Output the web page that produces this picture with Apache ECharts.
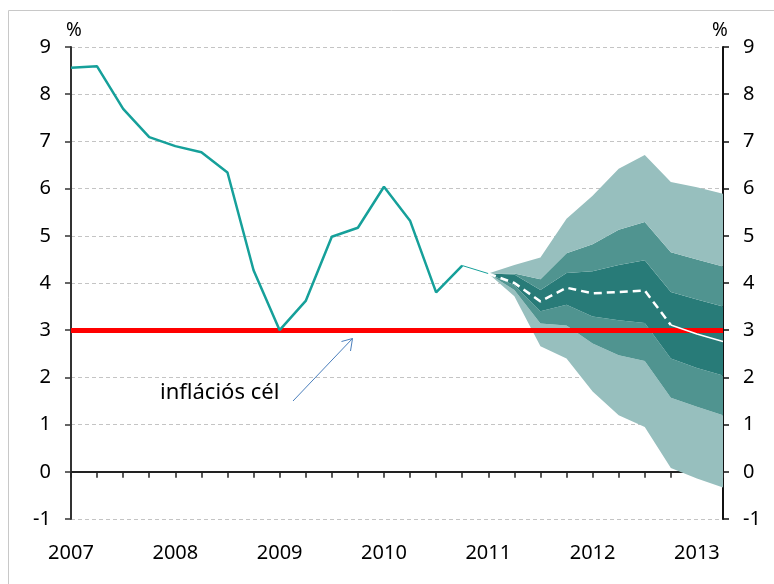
<!DOCTYPE html>
<html>
<head>
    <meta charset="utf-8">
    <title>Infláció</title>
    <script src="https://cdn.jsdelivr.net/npm/echarts@6/dist/echarts.min.js"></script>
</head>
<body style="margin:0;background:#fff">
<div id="main" style="width: 774px;height:584px;"></div>
<script type="text/javascript">
    // negyedéves tengely, évszám csak az első negyedévnél
    const xLabels = ['2007', '', '', '', '2008', '', '', '', '2009', '', '', '', '2010', '', '', '',
        '2011', '', '', '', '2012', '', '', '', '2013', ''];

    // tény adatok 2007 Q1 - 2010 Q4
    const history = [8.56, 8.59, 7.69, 7.09, 6.90, 6.77, 6.34, 4.27, 3.0, 3.62, 4.98, 5.17, 6.04, 5.32, 3.80, 4.37];

    // előrejelzés 2011 Q1 - 2013 Q2
    const median = [4.2, 4.0, 3.61, 3.90, 3.78, 3.81, 3.84, 3.11, 2.92, 2.76];
    const outerLow = [4.2, 3.72, 2.66, 2.40, 1.70, 1.20, 0.95, 0.08, -0.14, -0.33];
    const midLow = [4.2, 3.85, 3.14, 3.10, 2.72, 2.47, 2.35, 1.57, 1.38, 1.20];
    const darkLow = [4.2, 3.95, 3.40, 3.54, 3.29, 3.21, 3.15, 2.40, 2.20, 2.04];
    const darkHigh = [4.2, 4.18, 3.85, 4.21, 4.25, 4.38, 4.48, 3.81, 3.65, 3.50];
    const midHigh = [4.2, 4.2, 4.08, 4.63, 4.82, 5.13, 5.29, 4.65, 4.50, 4.35];
    const outerHigh = [4.2, 4.38, 4.54, 5.36, 5.85, 6.42, 6.71, 6.14, 6.03, 5.89];

    const target = 3;
    const start = history.length; // 16

    const light = '#97bfbe', mid = '#509490', dark = '#287b78', teal = '#16a09a';
    const font = 'Noto Sans';

    function pad(arr, offset) {
        const out = [];
        for (let i = 0; i < offset; i++) out.push(null);
        return out.concat(arr);
    }

    function diff(a, b) {
        return a.map((v, i) => +(v - b[i]).toFixed(3));
    }

    function band(name, values, color) {
        return {
            name: name, type: 'line', stack: 'fan', stackStrategy: 'all',
            data: pad(values, start), symbol: 'none', silent: true,
            lineStyle: {width: 0, opacity: 0},
            areaStyle: color ? {color: color, opacity: 1} : null,
            z: 2
        };
    }

    const myChart = echarts.init(document.getElementById('main'));

    const axisColor = '#333';
    const option = {
        animation: false,
        grid: {left: 71, right: 51, top: 47, bottom: 65},
        xAxis: [
            {
                type: 'category', data: xLabels, boundaryGap: false, position: 'bottom',
                axisLine: {show: false, onZero: false},
                axisTick: {show: false},
                axisLabel: {interval: 0, fontSize: 20, color: '#000', margin: 24, fontFamily: font},
                splitLine: {show: false}
            },
            {
                type: 'category', data: xLabels, boundaryGap: false, position: 'bottom',
                axisLine: {show: true, onZero: true, lineStyle: {color: '#222', width: 2}},
                axisTick: {show: true, interval: 0, length: 6, lineStyle: {color: '#222', width: 1.5}},
                axisLabel: {show: false},
                splitLine: {show: false}
            }
        ],
        yAxis: [
            {
                type: 'value', min: -1, max: 9, interval: 1, position: 'left',
                name: '%', nameLocation: 'end', nameGap: 7,
                nameTextStyle: {fontSize: 19, color: '#000', fontFamily: font, padding: [0, 0, 0, 6]},
                axisLine: {show: true, lineStyle: {color: axisColor, width: 2}},
                axisTick: {show: true, length: 6, lineStyle: {color: axisColor, width: 1.5}},
                axisLabel: {fontSize: 20, color: '#000', margin: 20, fontFamily: font},
                splitLine: {show: true, lineStyle: {type: [4, 3], color: '#c4c4c4', width: 1}}
            },
            {
                type: 'value', min: -1, max: 9, interval: 1, position: 'right',
                name: '%', nameLocation: 'end', nameGap: 7,
                nameTextStyle: {fontSize: 19, color: '#000', fontFamily: font, padding: [0, 6, 0, 0]},
                axisLine: {show: true, lineStyle: {color: '#111', width: 2}},
                axisTick: {show: true, length: 6, lineStyle: {color: '#111', width: 1.5}},
                axisLabel: {fontSize: 20, color: '#000', margin: 20, fontFamily: font},
                splitLine: {show: false}
            }
        ],
        graphic: [
            {
                type: 'rect', silent: true, z: 0,
                shape: {x: 8.5, y: 10.5, width: 800, height: 600},
                style: {fill: null, stroke: '#c8c8c8', lineWidth: 1}
            },
            {
                type: 'text', left: 160, top: 382, z: 10,
                style: {text: 'inflációs cél', font: '22px "Noto Sans"', fill: '#000'}
            },
            {
                type: 'line', z: 10,
                shape: {x1: 293, y1: 401, x2: 352.5, y2: 338.5},
                style: {stroke: '#4a7ebb', lineWidth: 1}
            },
            {
                type: 'polyline', z: 10,
                shape: {points: [[341.5, 341.5], [352.5, 338.5], [350.5, 351]]},
                style: {stroke: '#4a7ebb', lineWidth: 1, fill: null}
            }
        ],
        series: [
            band('base', outerLow, null),
            band('low80', diff(midLow, outerLow), light),
            band('low60', diff(darkLow, midLow), mid),
            band('core', diff(darkHigh, darkLow), dark),
            band('high60', diff(midHigh, darkHigh), mid),
            band('high80', diff(outerHigh, midHigh), light),
            {
                name: 'cél', type: 'line', data: [], silent: true,
                markLine: {
                    silent: true, symbol: 'none', label: {show: false},
                    lineStyle: {color: '#ff0000', width: 5, type: 'solid'},
                    data: [{yAxis: target}]
                }
            },
            {
                name: 'átmenet', type: 'line', symbol: 'none', silent: true, z: 8,
                data: pad([history[start - 1], median[0]], start - 1),
                lineStyle: {color: teal, width: 1}
            },
            {
                name: 'infláció', type: 'line', symbol: 'none', silent: true, z: 8,
                data: history,
                lineStyle: {color: teal, width: 2.5}
            },
            {
                name: 'medián', type: 'line', symbol: 'none', silent: true, z: 8,
                data: pad(median.slice(0, 8), start),
                lineStyle: {color: '#fff', width: 2.5, type: [8, 5]}
            },
            {
                name: 'medián vége', type: 'line', symbol: 'none', silent: true, z: 8,
                data: pad(median.slice(7), start + 7),
                lineStyle: {color: '#fff', width: 1.5}
            }
        ]
    };

    myChart.setOption(option);
</script>
</body>
</html>
